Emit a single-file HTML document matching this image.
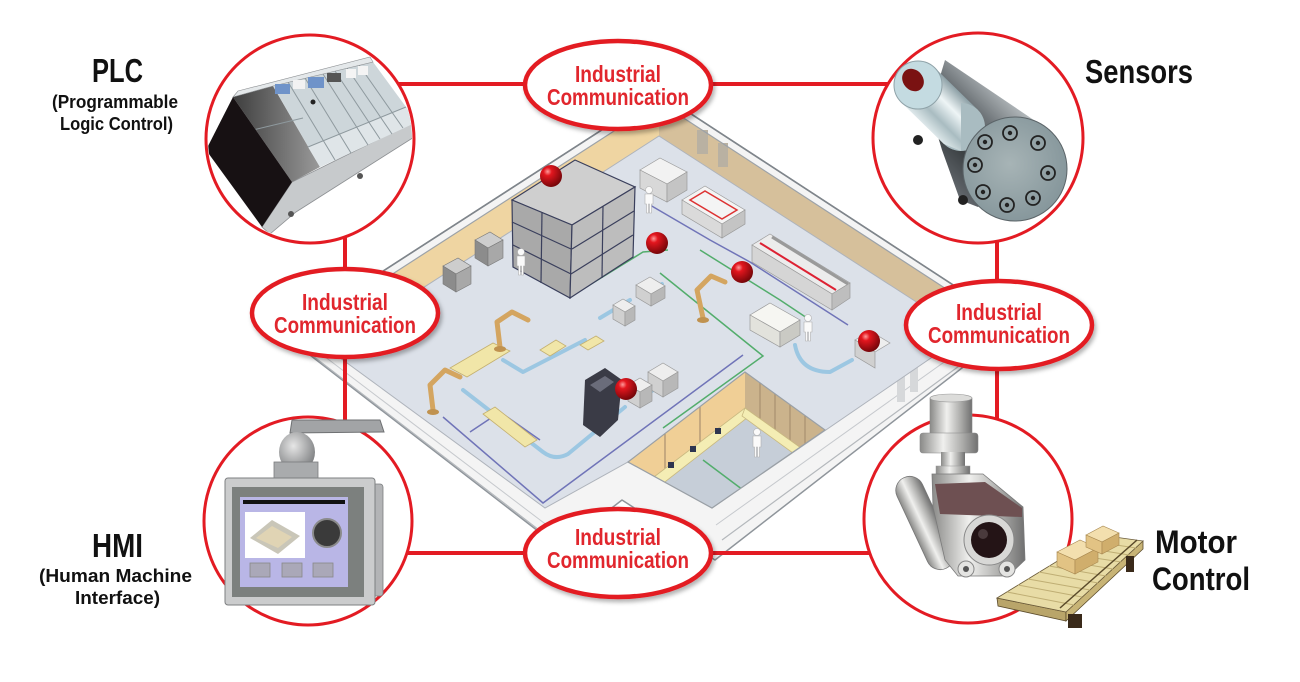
<!DOCTYPE html>
<html><head><meta charset="utf-8">
<style>
html,body{margin:0;padding:0;background:#fff;}
svg{display:block;}
text{font-family:"Liberation Sans",Arial,sans-serif;font-weight:bold;}
</style></head>
<body>
<svg width="1300" height="682" viewBox="0 0 1300 682" xmlns="http://www.w3.org/2000/svg">
<defs>
 <filter id="ds" x="-20%" y="-30%" width="140%" height="160%">
  <feDropShadow dx="2" dy="3" stdDeviation="2" flood-color="#000" flood-opacity="0.3"/>
 </filter>
 <radialGradient id="ball" cx="0.35" cy="0.3" r="0.75">
  <stop offset="0" stop-color="#ff9a9a"/>
  <stop offset="0.25" stop-color="#e3161e"/>
  <stop offset="1" stop-color="#6e0508"/>
 </radialGradient>
 <linearGradient id="sensBody" gradientUnits="userSpaceOnUse" x1="1008" y1="95" x2="935" y2="169">
  <stop offset="0" stop-color="#b4babd"/>
  <stop offset="0.3" stop-color="#70767a"/>
  <stop offset="0.7" stop-color="#3c4144"/>
  <stop offset="1" stop-color="#60656a"/>
 </linearGradient>
 <linearGradient id="silver" gradientUnits="userSpaceOnUse" x1="935" y1="68" x2="901" y2="102">
  <stop offset="0" stop-color="#8fa2a8"/>
  <stop offset="0.35" stop-color="#eef5f6"/>
  <stop offset="0.7" stop-color="#a9bcc1"/>
  <stop offset="1" stop-color="#dfe9eb"/>
 </linearGradient>
 <radialGradient id="face" cx="0.45" cy="0.45" r="0.6">
  <stop offset="0" stop-color="#a7b4b6"/>
  <stop offset="1" stop-color="#84959a"/>
 </radialGradient>
 <linearGradient id="met" x1="0" y1="0" x2="1" y2="0">
  <stop offset="0" stop-color="#8a8a88"/>
  <stop offset="0.4" stop-color="#f0f0ee"/>
  <stop offset="0.75" stop-color="#a8a8a6"/>
  <stop offset="1" stop-color="#707070"/>
 </linearGradient>
 <linearGradient id="plcDark" x1="0" y1="0" x2="1" y2="0">
  <stop offset="0" stop-color="#3e3e3e"/>
  <stop offset="1" stop-color="#9a9a9a"/>
 </linearGradient>
 <radialGradient id="dome" cx="0.4" cy="0.35" r="0.7">
  <stop offset="0" stop-color="#e6e6e6"/>
  <stop offset="1" stop-color="#7a7c7e"/>
 </radialGradient>
 <clipPath id="cPLC"><circle cx="310" cy="139" r="102"/></clipPath>
 <clipPath id="off"><polygon points="628,462 745,372 825,430 712,508"/></clipPath>
</defs>

<!-- ================= FACTORY ================= -->
<g id="factory">
 <polygon points="659,93 1016,326 715,560 622,500 560,548 284,335" fill="#f4f4f4" stroke="#8f959b" stroke-width="1.5" stroke-linejoin="round"/>
 <polyline points="300,346 552,540" fill="none" stroke="#b4b8bc" stroke-width="1.2"/>
 <polyline points="316,350 548,526" fill="none" stroke="#c6c9cd"/>
 <polyline points="722,540 985,347" fill="none" stroke="#b4b8bc" stroke-width="1.2"/>
 <polyline points="716,525 975,340" fill="none" stroke="#c6c9cd"/>
 <rect x="897" y="372" width="8" height="30" fill="#d6d8da" transform="skewY(-35 901 387)"/>
 <rect x="910" y="362" width="8" height="30" fill="#d6d8da" transform="skewY(-35 914 377)"/>

 <!-- back walls -->
 <polygon points="298,335 659,102 659,136 328,349" fill="#efd5a2"/>
 <polygon points="659,102 1000,324 966,334 659,136" fill="#d6c09b"/>
 <rect x="697" y="130" width="11" height="24" fill="#b9b1a2" transform="skewY(33 702 142)"/>
 <rect x="718" y="143" width="10" height="24" fill="#b9b1a2" transform="skewY(33 723 155)"/>
 <polygon points="300,336 318,324 318,346 305,346" fill="#b8b8b8"/>
 <polyline points="284,335 659,93 1016,326" fill="none" stroke="#7f858b" stroke-width="1.6"/>
 <polyline points="298,335 659,102 1000,324" fill="none" stroke="#9ca2a8" stroke-width="1.2"/>

 <!-- floor -->
 <polygon points="659,136 966,334 712,508 628,462 545,508 328,349" fill="#dce1e9" stroke="#aeb3bb"/>

 <!-- office cutout -->
 <polygon points="628,462 745,372 825,430 712,508" fill="#c6ced8"/>
 <g clip-path="url(#off)">
  <polygon points="628,462 745,372 745,414 628,504" fill="#f0cf96"/>
  <polygon points="745,372 825,430 825,472 745,414" fill="#cbb38c"/>
  <g stroke="#a99070" stroke-width="1.2">
   <line x1="760" y1="383" x2="760" y2="425"/><line x1="775" y1="394" x2="775" y2="436"/>
   <line x1="790" y1="405" x2="790" y2="447"/><line x1="805" y1="416" x2="805" y2="458"/>
   <line x1="665" y1="434" x2="665" y2="476"/><line x1="700" y1="407" x2="700" y2="449"/>
  </g>
  <polygon points="642,486 745,408 752,414 652,492" fill="#f4edb4" stroke="#c9b980" stroke-width="0.8"/>
  <polygon points="745,408 815,458 808,464 742,416" fill="#f4edb4" stroke="#c9b980" stroke-width="0.8"/>
  <rect x="668" y="462" width="6" height="6" fill="#2e3550"/>
  <rect x="690" y="446" width="6" height="6" fill="#2e3550"/>
  <rect x="715" y="428" width="6" height="6" fill="#2e3550"/>
  <line x1="703" y1="460" x2="747" y2="493" stroke="#53ad6c" stroke-width="1.5"/>
 </g>
 <polygon points="628,462 745,372 825,430 712,508" fill="none" stroke="#9aa0a6" stroke-width="1.2"/>
 <g fill="#fafafa" stroke="#b0b0b0" stroke-width="0.6">
  <circle cx="757" cy="432" r="3.5"/><path d="M753,436 h8 v11 h-1.5 v10 h-2 v-10 h-1 v10 h-2 v-10 h-1.5z"/>
 </g>

 <!-- conveyors -->
 <g fill="none" stroke="#9cc7e2" stroke-width="4" stroke-linecap="round" stroke-linejoin="round">
  <polyline points="503,360 523,372 585,340"/>
  <path d="M463,390 L543,452 Q555,461 568,454 L625,407"/>
  <path d="M795,345 Q800,372 830,372 L852,360"/>
  <polyline points="600,318 630,300"/>
  <polyline points="640,297 662,284"/>
  <polyline points="650,392 670,380"/>
 </g>

 <!-- path lines -->
 <g fill="none" stroke-width="1.5">
  <polyline points="443,417 543,503 743,355" stroke="#7074b8"/>
  <polyline points="650,205 710,240 750,262 848,325" stroke="#7074b8"/>
  <polyline points="470,432 500,412 540,440" stroke="#7074b8"/>
  <polyline points="570,297 643,252 668,250" stroke="#53ad6c"/>
  <polyline points="660,273 763,356 663,428" stroke="#53ad6c"/>
  <polyline points="700,250 780,300 810,320" stroke="#53ad6c"/>
 </g>

 <!-- rack -->
 <g stroke="#3a3f5c" stroke-width="1.2">
  <polygon points="512,200 575,160 635,187 572,225" fill="#cfcfcf"/>
  <polygon points="512,200 572,225 570,298 513,267" fill="#a9a9a9"/>
  <polygon points="572,225 635,187 633,257 570,298" fill="#bdbdbd"/>
  <line x1="512" y1="222" x2="571" y2="249"/>
  <line x1="513" y1="245" x2="571" y2="274"/>
  <line x1="542" y1="212" x2="541" y2="283"/>
  <line x1="572" y1="249" x2="634" y2="211"/>
  <line x1="571" y1="274" x2="633" y2="235"/>
  <line x1="603" y1="206" x2="602" y2="278"/>
 </g>

 <!-- box stacks -->
 <g stroke="#777" stroke-width="0.6">
  <polygon points="475,240 490,232 503,240 488,248" fill="#cdcdcd"/>
  <polygon points="475,240 488,248 488,266 475,258" fill="#8c8c8c"/>
  <polygon points="488,248 503,240 503,258 488,266" fill="#a8a8a8"/>
  <polygon points="443,266 458,258 471,266 456,274" fill="#cdcdcd"/>
  <polygon points="443,266 456,274 456,292 443,284" fill="#8c8c8c"/>
  <polygon points="456,274 471,266 471,284 456,292" fill="#a8a8a8"/>
 </g>

 <!-- machines -->
 <g stroke="#9a9a9a" stroke-width="0.7">
  <polygon points="640,170 660,158 687,172 667,184" fill="#f2f2f2"/>
  <polygon points="640,170 667,184 667,202 640,188" fill="#d8d8d8"/>
  <polygon points="667,184 687,172 687,190 667,202" fill="#c4c4c4"/>

  <polygon points="682,200 705,186 745,210 722,224" fill="#f4f4f4"/>
  <polygon points="682,200 722,224 722,238 682,214" fill="#dadada"/>
  <polygon points="722,224 745,210 745,224 722,238" fill="#c4c4c4"/>

  <polygon points="752,245 770,234 850,283 832,294" fill="#ececec"/>
  <polygon points="752,245 832,294 832,310 752,262" fill="#d5d5d5"/>
  <polygon points="832,294 850,283 850,298 832,310" fill="#bebebe"/>

  <polygon points="750,315 770,303 800,320 780,332" fill="#f6f6f2"/>
  <polygon points="750,315 780,332 780,347 750,330" fill="#e2e2dc"/>
  <polygon points="780,332 800,320 800,335 780,347" fill="#cacac4"/>

  <polygon points="613,305 623,299 635,306 625,312" fill="#eeeeee"/>
  <polygon points="613,305 625,312 625,326 613,319" fill="#d0d0d0"/>
  <polygon points="625,312 635,306 635,320 625,326" fill="#b8b8b8"/>

  <polygon points="636,285 650,277 665,286 651,294" fill="#eeeeee"/>
  <polygon points="636,285 651,294 651,306 636,297" fill="#d0d0d0"/>
  <polygon points="651,294 665,286 665,298 651,306" fill="#b8b8b8"/>

  <polygon points="648,372 663,363 678,372 663,381" fill="#eeeeee"/>
  <polygon points="648,372 663,381 663,397 648,388" fill="#d0d0d0"/>
  <polygon points="663,381 678,372 678,388 663,397" fill="#b8b8b8"/>

  <polygon points="628,385 640,378 652,385 640,392" fill="#eeeeee"/>
  <polygon points="628,385 640,392 640,408 628,401" fill="#d0d0d0"/>
  <polygon points="640,392 652,385 652,401 640,408" fill="#b8b8b8"/>

  <polygon points="855,340 870,331 890,343 875,352" fill="#eeeeee"/>
  <polygon points="855,340 875,352 875,368 855,356" fill="#d0d0d0"/>
 </g>
 <polygon points="690,200 705,191 737,210 722,219" fill="none" stroke="#d33" stroke-width="1.5"/>
 <line x1="760" y1="243" x2="836" y2="290" stroke="#d23" stroke-width="2"/>
 <line x1="772" y1="237" x2="848" y2="284" stroke="#9a9a9a" stroke-width="3"/>

 <!-- yellow tables -->
 <g fill="#f1e6a8" stroke="#c4b070" stroke-width="0.8">
  <polygon points="450,368 493,343 510,351 467,377"/>
  <polygon points="483,414 495,407 537,440 525,447"/>
  <polygon points="540,350 556,340 566,346 550,356"/>
  <polygon points="580,345 596,336 604,341 588,350"/>
 </g>

 <!-- dark machine -->
 <polygon points="585,380 605,368 622,380 618,420 600,437 583,425" fill="#3a3b46"/>
 <polygon points="590,385 605,376 614,382 600,392" fill="#6a6c7a"/>

 <!-- robots -->
 <g fill="none" stroke="#d4a560" stroke-width="5" stroke-linecap="round" stroke-linejoin="round">
  <polyline points="433,410 430,385 445,370 460,377"/>
  <polyline points="500,347 497,322 512,312 528,320"/>
  <polyline points="703,318 697,290 711,276 725,282"/>
 </g>
 <g fill="#c0924f">
  <ellipse cx="433" cy="412" rx="6" ry="3"/><ellipse cx="500" cy="349" rx="6" ry="3"/><ellipse cx="703" cy="320" rx="6" ry="3"/>
 </g>

 <!-- people -->
 <g fill="#fafafa" stroke="#b0b0b0" stroke-width="0.6">
  <circle cx="521" cy="252" r="3.5"/><path d="M517,256 h8 v10 h-1.5 v9 h-2 v-9 h-1 v9 h-2 v-9 h-1.5z"/>
  <circle cx="649" cy="190" r="3.5"/><path d="M645,194 h8 v10 h-1.5 v9 h-2 v-9 h-1 v9 h-2 v-9 h-1.5z"/>
  <circle cx="808" cy="318" r="3.5"/><path d="M804,322 h8 v10 h-1.5 v9 h-2 v-9 h-1 v9 h-2 v-9 h-1.5z"/>
 </g>

 <!-- red balls -->
 <g fill="url(#ball)">
  <circle cx="551" cy="176" r="11"/>
  <circle cx="657" cy="243" r="11"/>
  <circle cx="742" cy="272" r="11"/>
  <circle cx="869" cy="341" r="11"/>
  <circle cx="626" cy="389" r="11"/>
 </g>
</g>

<!-- ================= RED CONNECTORS ================= -->
<g stroke="#e31b23" stroke-width="4" fill="none">
 <line x1="310" y1="84" x2="978" y2="84"/>
 <line x1="345" y1="139" x2="345" y2="521"/>
 <line x1="997" y1="138" x2="997" y2="519"/>
 <line x1="308" y1="553" x2="968" y2="553"/>
</g>

<!-- ================= CIRCLES ================= -->
<g fill="#fff" stroke="#e31b23" stroke-width="3">
 <circle cx="310" cy="139" r="104"/>
 <circle cx="978" cy="138" r="105"/>
 <circle cx="308" cy="521" r="104"/>
 <circle cx="968" cy="519" r="104"/>
</g>

<!-- ================= ELLIPSES ================= -->
<g fill="#fff" stroke="#e31b23" stroke-width="4.5" filter="url(#ds)">
 <ellipse cx="618" cy="85" rx="93" ry="44"/>
 <ellipse cx="345" cy="313" rx="93" ry="44"/>
 <ellipse cx="999" cy="325" rx="93" ry="44"/>
 <ellipse cx="618" cy="553" rx="93" ry="44"/>
</g>
<g fill="#e1262d" font-size="23">
 <text x="575" y="82" textLength="86" lengthAdjust="spacingAndGlyphs">Industrial</text>
 <text x="547" y="105" textLength="142" lengthAdjust="spacingAndGlyphs">Communication</text>
 <text x="302" y="310" textLength="86" lengthAdjust="spacingAndGlyphs">Industrial</text>
 <text x="274" y="333" textLength="142" lengthAdjust="spacingAndGlyphs">Communication</text>
 <text x="956" y="320" textLength="86" lengthAdjust="spacingAndGlyphs">Industrial</text>
 <text x="928" y="343" textLength="142" lengthAdjust="spacingAndGlyphs">Communication</text>
 <text x="575" y="545" textLength="86" lengthAdjust="spacingAndGlyphs">Industrial</text>
 <text x="547" y="568" textLength="142" lengthAdjust="spacingAndGlyphs">Communication</text>
</g>

<!-- ================= PLC ICON ================= -->
<g clip-path="url(#cPLC)">
 <polygon points="262,227 292,182 418,120 422,132 296,212 270,234" fill="#c7cacc" stroke="#8d9093" stroke-width="0.8"/>
 <polygon points="233,97 273,86 320,167 292,182" fill="url(#plcDark)"/>
 <polygon points="273,86 373,62 417,122 320,167" fill="#cdd6da"/>
 <polygon points="308,147 406,107 417,122 320,167" fill="#dfe5e8"/>
 <g stroke="#8e999e" stroke-width="1">
  <line x1="288" y1="82" x2="335" y2="160"/>
  <line x1="305" y1="78" x2="351" y2="153"/>
  <line x1="323" y1="74" x2="368" y2="145"/>
  <line x1="335" y1="71" x2="380" y2="139"/>
  <line x1="347" y1="68" x2="392" y2="134"/>
  <line x1="359" y1="65" x2="403" y2="128"/>
  <line x1="308" y1="147" x2="406" y2="107"/>
  <line x1="253" y1="130" x2="303" y2="118"/>
 </g>
 <polygon points="233,97 238,91 370,57 373,62 273,86" fill="#e4e8ea" stroke="#8d9093" stroke-width="0.6"/>
 <rect x="275" y="84" width="15" height="10" fill="#6f93c9" transform="skewY(-13 282 89)"/>
 <rect x="293" y="80" width="12" height="9" fill="#f2f2f2" transform="skewY(-13 299 85)"/>
 <rect x="308" y="77" width="16" height="11" fill="#6f93c9" transform="skewY(-13 316 82)"/>
 <rect x="327" y="73" width="14" height="9" fill="#555" transform="skewY(-13 334 78)"/>
 <rect x="346" y="69" width="10" height="9" fill="#f4f4f4" transform="skewY(-13 351 73)"/>
 <rect x="358" y="66" width="10" height="9" fill="#f4f4f4" transform="skewY(-13 363 70)"/>
 <circle cx="313" cy="102" r="2.5" fill="#222"/>
 <polygon points="233,97 206,150 262,227 292,182" fill="#171113"/>
 <circle cx="291" cy="214" r="3" fill="#555"/>
 <circle cx="360" cy="176" r="3" fill="#555"/>
</g>

<!-- ================= SENSOR ICON ================= -->
<g>
 <polygon points="945,60 1053,133 978,207 960,200 942,150 930,110" fill="url(#sensBody)"/>
 <circle cx="918" cy="140" r="5" fill="#222"/>
 <circle cx="963" cy="200" r="5" fill="#222"/>
 <polygon points="935,68 978,110 944,144 901,102" fill="url(#silver)"/>
 <circle cx="961" cy="127" r="24" fill="#a9bcc1"/>
 <polygon points="935,68 961,103 961,151 944,144 901,102" fill="url(#silver)"/>
 <circle cx="918" cy="85" r="24" fill="#c4dbe1" stroke="#8fa2a8"/>
 <ellipse cx="913" cy="80" rx="10" ry="12" fill="#7a1212" transform="rotate(-40 913 80)"/>
 <circle cx="1015" cy="169" r="52" fill="url(#face)" stroke="#5b6468" stroke-width="1"/>
 <g fill="none" stroke="#222" stroke-width="1.8">
  <circle cx="1010" cy="133" r="7"/><circle cx="1038" cy="143" r="7"/>
  <circle cx="985" cy="142" r="7"/><circle cx="975" cy="165" r="7"/>
  <circle cx="1048" cy="173" r="7"/><circle cx="983" cy="192" r="7"/>
  <circle cx="1007" cy="205" r="7"/><circle cx="1033" cy="198" r="7"/>
 </g>
 <g fill="#222">
  <circle cx="1010" cy="133" r="2.2"/><circle cx="1038" cy="143" r="2.2"/>
  <circle cx="985" cy="142" r="2.2"/><circle cx="975" cy="165" r="2.2"/>
  <circle cx="1048" cy="173" r="2.2"/><circle cx="983" cy="192" r="2.2"/>
  <circle cx="1007" cy="205" r="2.2"/><circle cx="1033" cy="198" r="2.2"/>
 </g>
</g>

<!-- ================= HMI ICON ================= -->
<g>
 <polygon points="292,420 380,420 384,432 290,433" fill="#a2a4a6" stroke="#6f7173" stroke-width="1"/>
 <ellipse cx="297" cy="452" rx="18" ry="20" fill="url(#dome)"/>
 <rect x="274" y="462" width="44" height="17" fill="#a9abad" stroke="#7a7c7e" stroke-width="0.8"/>
 <rect x="370" y="484" width="13" height="112" rx="3" fill="#b3b4b6" stroke="#7d7f81" stroke-width="0.8"/>
 <rect x="225" y="478" width="150" height="127" rx="3" fill="#cbcccd" stroke="#7d7f81" stroke-width="1"/>
 <rect x="232" y="487" width="132" height="110" fill="#7c807e"/>
 <rect x="240" y="497" width="108" height="90" fill="#b9b6e6"/>
 <rect x="243" y="500" width="102" height="4" fill="#111"/>
 <rect x="245" y="512" width="60" height="46" fill="#ffffff"/>
 <polygon points="250,538 272,520 300,536 278,554" fill="#c9c6b8"/>
 <polygon points="256,538 272,526 292,537 278,548" fill="#e0d4b4"/>
 <circle cx="327" cy="533" r="14" fill="#3a3a3a" stroke="#8a8a8a" stroke-width="2"/>
 <rect x="250" y="563" width="20" height="14" fill="#aaa8b8" stroke="#888" stroke-width="0.8"/>
 <rect x="282" y="563" width="20" height="14" fill="#aaa8b8" stroke="#888" stroke-width="0.8"/>
 <rect x="313" y="563" width="20" height="14" fill="#aaa8b8" stroke="#888" stroke-width="0.8"/>
</g>

<!-- ================= MOTOR ICON ================= -->
<g>
 <rect x="911" y="473" width="28" height="100" rx="14" transform="rotate(-25 925 523)" fill="url(#met)" stroke="#777" stroke-width="0.8"/>
 <rect x="930" y="398" width="42" height="38" fill="url(#met)" stroke="#888" stroke-width="0.6"/>
 <ellipse cx="951" cy="398" rx="21" ry="4" fill="#dcdcda" stroke="#999" stroke-width="0.6"/>
 <rect x="920" y="433" width="58" height="20" rx="3" fill="url(#met)" stroke="#888" stroke-width="0.6"/>
 <rect x="941" y="452" width="24" height="24" fill="url(#met)"/>
 <rect x="936" y="466" width="34" height="9" fill="url(#met)" stroke="#999" stroke-width="0.5"/>
 <polygon points="932,474 983,474 1023,507 1025,560 1008,576 958,576 945,560 933,507" fill="url(#met)" stroke="#7a7a7a" stroke-width="0.8"/>
 <polygon points="935,484 985,482 1022,508 1022,517 940,514" fill="#6e5052"/>
 <circle cx="989" cy="540" r="25" fill="#d8d8d6" stroke="#888" stroke-width="1"/>
 <circle cx="989" cy="540" r="18" fill="#241416"/>
 <circle cx="983" cy="534" r="5" fill="#4a3a3c"/>
 <circle cx="966" cy="569" r="8" fill="#e4e4e2" stroke="#888"/>
 <circle cx="966" cy="569" r="3" fill="#555"/>
 <circle cx="1007" cy="569" r="8" fill="#e4e4e2" stroke="#888"/>
 <circle cx="1007" cy="569" r="3" fill="#555"/>

 <!-- conveyor -->
 <polygon points="997,598 1066,612 1066,621 998,606" fill="#b9a56a" stroke="#5a4a2a" stroke-width="0.8"/>
 <polygon points="1066,612 1143,541 1143,549 1066,621" fill="#c8b476" stroke="#5a4a2a" stroke-width="0.8"/>
 <polygon points="997,598 1100,535 1143,541 1066,612" fill="#e8dca6" stroke="#6a5a3a" stroke-width="0.8"/>
 <g stroke="#bfae74" stroke-width="1">
  <line x1="1007" y1="592" x2="1074" y2="605"/><line x1="1018" y1="585" x2="1082" y2="597"/>
  <line x1="1028" y1="579" x2="1090" y2="590"/><line x1="1039" y1="572" x2="1098" y2="583"/>
  <line x1="1049" y1="566" x2="1106" y2="576"/><line x1="1059" y1="560" x2="1113" y2="569"/>
  <line x1="1069" y1="554" x2="1121" y2="562"/><line x1="1080" y1="547" x2="1129" y2="555"/>
  <line x1="1090" y1="541" x2="1136" y2="548"/>
 </g>
 <line x1="1060" y1="608" x2="1137" y2="540" stroke="#5a4a2a" stroke-width="1.5"/>
 <rect x="1068" y="614" width="14" height="14" fill="#3a2a1a"/>
 <rect x="1126" y="556" width="8" height="16" fill="#3a2a1a"/>
 <polygon points="1057,552 1080,540 1098,548 1075,560" fill="#f3dfae" stroke="#a88850" stroke-width="0.6"/>
 <polygon points="1057,552 1075,560 1075,574 1057,566" fill="#e2c384" stroke="#a88850" stroke-width="0.6"/>
 <polygon points="1075,560 1098,548 1098,562 1075,574" fill="#d0ae6c" stroke="#a88850" stroke-width="0.6"/>
 <polygon points="1086,535 1103,526 1119,533 1102,542" fill="#f3dfae" stroke="#a88850" stroke-width="0.6"/>
 <polygon points="1086,535 1102,542 1102,554 1086,547" fill="#e2c384" stroke="#a88850" stroke-width="0.6"/>
 <polygon points="1102,542 1119,533 1119,545 1102,554" fill="#d0ae6c" stroke="#a88850" stroke-width="0.6"/>
</g>

<!-- ================= LABELS ================= -->
<g fill="#111">
 <text x="92" y="82" font-size="33" textLength="51" lengthAdjust="spacingAndGlyphs">PLC</text>
 <text x="52" y="108" font-size="18" textLength="126" lengthAdjust="spacingAndGlyphs">(Programmable</text>
 <text x="60" y="130" font-size="18" textLength="113" lengthAdjust="spacingAndGlyphs">Logic Control)</text>
 <text x="1085" y="83" font-size="33" textLength="108" lengthAdjust="spacingAndGlyphs">Sensors</text>
 <text x="92" y="557" font-size="33" textLength="51" lengthAdjust="spacingAndGlyphs">HMI</text>
 <text x="39" y="582" font-size="18" textLength="153" lengthAdjust="spacingAndGlyphs">(Human Machine</text>
 <text x="75" y="604" font-size="18" textLength="85" lengthAdjust="spacingAndGlyphs">Interface)</text>
 <text x="1155" y="553" font-size="32" textLength="82" lengthAdjust="spacingAndGlyphs">Motor</text>
 <text x="1152" y="590" font-size="32" textLength="98" lengthAdjust="spacingAndGlyphs">Control</text>
</g>
</svg>
</body></html>
